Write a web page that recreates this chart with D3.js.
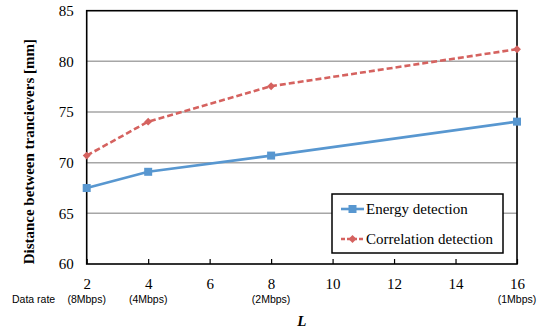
<!DOCTYPE html>
<html>
<head>
<meta charset="utf-8">
<script src="https://cdn.jsdelivr.net/npm/d3@7"></script>
<style>
  body { margin: 0; background: #fff; }
  .serif { font-family: "Liberation Serif", "Times New Roman", serif; }
  .sans { font-family: "Liberation Sans", Arial, sans-serif; }
</style>
</head>
<body>
<div id="chart"></div>
<script>
const lValues = [2, 4, 8, 16];
const energyDetection = [67.5, 69.1, 70.7, 74.05];
const correlationDetection = [70.7, 74.05, 77.55, 81.2];
const xTicks = [2, 4, 6, 8, 10, 12, 14, 16];
const yTicks = [60, 65, 70, 75, 80, 85];
const rateLabels = [[2, "(8Mbps)"], [4, "(4Mbps)"], [8, "(2Mbps)"], [16, "(1Mbps)"]];

const width = 543, height = 332;
const margin = {top: 10.7, right: 26, bottom: 68, left: 86.7};
const w = width - margin.left - margin.right;
const h = height - margin.top - margin.bottom;

const svg = d3.select("#chart")
    .append("svg")
    .attr("width", width)
    .attr("height", height)
    .append("g")
    .attr("transform", `translate(${margin.left},${margin.top})`);

const xScale = d3.scaleLinear().domain([2, 16]).range([0, w]);
const yScale = d3.scaleLinear().domain([60, 85]).range([h, 0]);

// gridlines
svg.selectAll(".grid")
    .data(yTicks.filter(d => d > 60 && d < 85))
    .join("line")
    .attr("x1", 0).attr("x2", w)
    .attr("y1", d => yScale(d)).attr("y2", d => yScale(d))
    .attr("stroke", "#a6a6a6")
    .attr("stroke-width", 1.5);

// frame
svg.append("rect")
    .attr("width", w).attr("height", h)
    .attr("fill", "none")
    .attr("stroke", "#000")
    .attr("stroke-width", 1.6);

// x axis
const xAxis = svg.append("g")
    .attr("transform", `translate(0,${h})`)
    .call(d3.axisBottom(xScale).tickValues(xTicks).tickSizeInner(-5).tickSizeOuter(0).tickPadding(14));
xAxis.select(".domain").remove();
xAxis.selectAll("line").attr("stroke", "#000").attr("stroke-width", 1.2);
xAxis.attr("font-family", null);
xAxis.selectAll("text")
    .attr("class", "serif")
    .attr("font-size", 15)
    .attr("fill", "#000");

// y axis
const yAxis = svg.append("g")
    .call(d3.axisLeft(yScale).tickValues(yTicks).tickSize(0).tickPadding(13));
yAxis.select(".domain").remove();
yAxis.attr("font-family", null);
yAxis.selectAll("text")
    .attr("class", "serif")
    .attr("font-size", 15)
    .attr("fill", "#000");

// data rate labels
svg.append("text")
    .attr("class", "sans")
    .attr("x", 12 - margin.left)
    .attr("y", h + 39)
    .attr("font-size", 10.5)
    .text("Data rate");

svg.selectAll(".rate")
    .data(rateLabels)
    .join("text")
    .attr("class", "sans")
    .attr("x", d => xScale(d[0]))
    .attr("y", h + 39)
    .attr("text-anchor", "middle")
    .attr("font-size", 10.5)
    .text(d => d[1]);

// axis titles
svg.append("text")
    .attr("class", "serif")
    .attr("x", xScale(9))
    .attr("y", h + 62)
    .attr("text-anchor", "middle")
    .attr("font-size", 15)
    .attr("font-weight", "bold")
    .attr("font-style", "italic")
    .text("L");

svg.append("text")
    .attr("class", "serif")
    .attr("transform", `translate(${34 - margin.left},${141}) rotate(-90)`)
    .attr("text-anchor", "middle")
    .attr("font-size", 15)
    .attr("font-weight", "bold")
    .text("Distance between trancievers [mm]");

const line = d3.line()
    .x((d, i) => xScale(lValues[i]))
    .y(d => yScale(d));

const blue = "#5897d0", red = "#d5625f";

svg.append("path")
    .attr("d", line(correlationDetection))
    .attr("fill", "none")
    .attr("stroke", red)
    .attr("stroke-width", 2.6)
    .attr("stroke-dasharray", "6,3");

svg.append("path")
    .attr("d", line(energyDetection))
    .attr("fill", "none")
    .attr("stroke", blue)
    .attr("stroke-width", 2.6);

const diamond = d3.symbol().type(d3.symbolDiamond2).size(40);

svg.selectAll(".cmark")
    .data(correlationDetection)
    .join("path")
    .attr("transform", (d, i) => `translate(${xScale(lValues[i])},${yScale(d)})`)
    .attr("d", diamond)
    .attr("fill", red);

svg.selectAll(".emark")
    .data(energyDetection)
    .join("rect")
    .attr("x", (d, i) => xScale(lValues[i]) - 4)
    .attr("y", d => yScale(d) - 4)
    .attr("width", 8).attr("height", 8)
    .attr("fill", blue);

// legend
const lg = svg.append("g").attr("transform", `translate(${332 - margin.left},${194 - margin.top})`);
lg.append("rect")
    .attr("width", 171).attr("height", 59)
    .attr("fill", "#fff")
    .attr("stroke", "#000")
    .attr("stroke-width", 1.5);

const legendItems = [
    {name: "Energy detection", color: blue, dash: null, y: 15},
    {name: "Correlation detection", color: red, dash: "4,2", y: 45}
];
legendItems.forEach(item => {
    lg.append("line")
        .attr("x1", 9).attr("x2", 32)
        .attr("y1", item.y).attr("y2", item.y)
        .attr("stroke", item.color)
        .attr("stroke-width", 2.6)
        .attr("stroke-dasharray", item.dash);
    if (item.dash) {
        lg.append("path")
            .attr("transform", `translate(20.5,${item.y})`)
            .attr("d", diamond)
            .attr("fill", item.color);
    } else {
        lg.append("rect")
            .attr("x", 16.5).attr("y", item.y - 4)
            .attr("width", 8).attr("height", 8)
            .attr("fill", item.color);
    }
    lg.append("text")
        .attr("class", "serif")
        .attr("x", 34).attr("y", item.y + 5)
        .attr("font-size", 15)
        .text(item.name);
});
</script>
</body>
</html>
